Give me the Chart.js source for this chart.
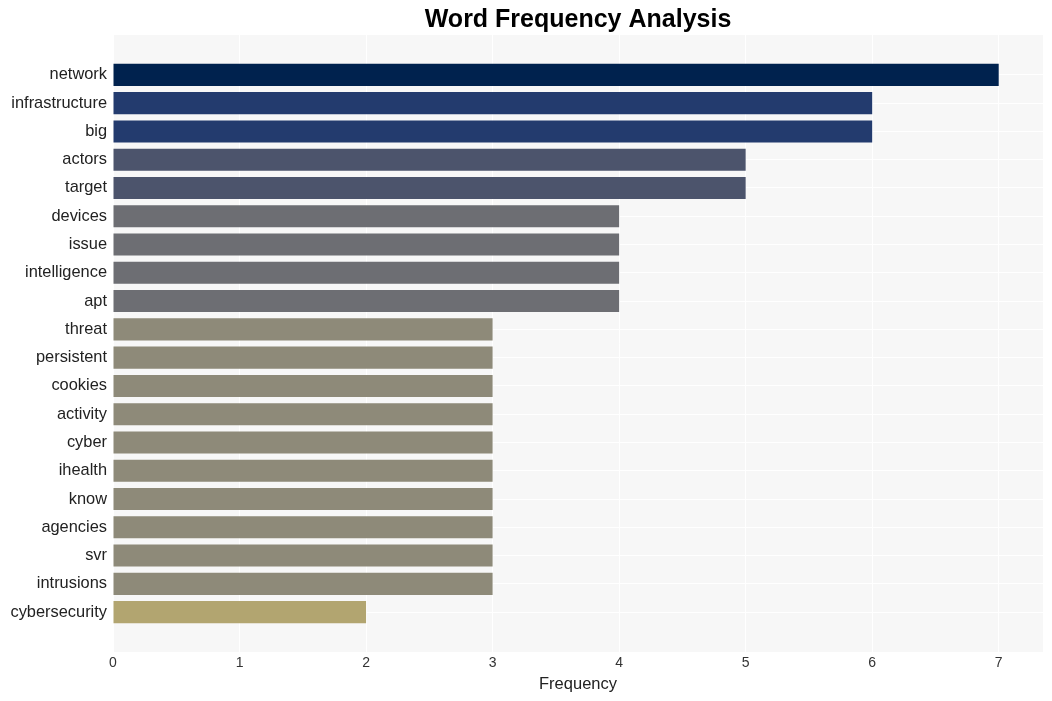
<!DOCTYPE html>
<html>
<head>
<meta charset="utf-8">
<script src="https://cdn.jsdelivr.net/npm/chart.js@4"></script>
<style>
html,body{margin:0;padding:0;background:#fff;}
#wrap{width:1052px;height:701px;}
</style>
</head>
<body>
<div id="wrap"><canvas id="c" width="1052" height="701"></canvas></div>
<script>
const words = ["network","infrastructure","big","actors","target","devices","issue","intelligence","apt","threat","persistent","cookies","activity","cyber","ihealth","know","agencies","svr","intrusions","cybersecurity"];
const counts = [7,6,6,5,5,4,4,4,4,3,3,3,3,3,3,3,3,3,3,2];
const xTicks = [0,1,2,3,4,5,6,7];
const colorByCount = {7:"#00224e",6:"#233b6e",5:"#4c546c",4:"#6d6e73",3:"#8e8a79",2:"#b2a570"};

const bgPlugin = {
  id:'plotBg',
  beforeDraw(chart){
    const {ctx, chartArea:a} = chart;
    ctx.save();
    ctx.fillStyle = '#f7f7f7';
    ctx.fillRect(a.left, a.top, a.right-a.left, a.bottom-a.top);
    ctx.restore();
  }
};

new Chart(document.getElementById('c'), {
  type:'bar',
  data:{
    datasets:[{
      data: words.map((w,i)=>({x:counts[i], y:i})),
      backgroundColor: counts.map(v=>colorByCount[v]),
      barPercentage:0.78,
      categoryPercentage:1.0
    }]
  },
  options:{
    indexAxis:'y',
    responsive:false,
    animation:false,
    layout:{padding:{top:5,right:9,bottom:5,left:0}},
    plugins:{
      legend:{display:false},
      tooltip:{enabled:false},
      title:{
        display:true,
        text:'Word Frequency Analysis',
        fullSize:false,
        color:'#000',
        font:{family:'Liberation Sans, Arial, sans-serif',size:25,weight:'bold'},
        padding:{top:0,bottom:0}
      }
    },
    scales:{
      x:{
        type:'linear',
        min:0,
        max:7.35,
        afterBuildTicks(s){ s.ticks = xTicks.map(v=>({value:v})); },
        afterFit(s){ s.height = 44; },
        grid:{color:'#ffffff',lineWidth:1,drawTicks:false,offset:false},
        border:{display:false},
        ticks:{color:'#333',font:{family:'Liberation Sans, Arial, sans-serif',size:14},padding:3},
        title:{display:true,text:'Frequency',color:'#222',font:{family:'Liberation Sans, Arial, sans-serif',size:16.5},padding:{top:4,bottom:2}}
      },
      y:{
        type:'linear',
        reverse:true,
        offset:false,
        min:-1.41,
        max:words.length-1+1.41,
        afterBuildTicks(s){ s.ticks = words.map((w,i)=>({value:i})); },
        afterFit(s){ s.width = 113; },
        grid:{color:'#ffffff',lineWidth:1,drawTicks:false,offset:false},
        border:{display:false},
        ticks:{
          color:'#222',
          font:{family:'Liberation Sans, Arial, sans-serif',size:16.4},
          padding:6,
          autoSkip:false,
          callback:(v)=>words[v]
        }
      }
    }
  },
  plugins:[bgPlugin]
});
</script>
</body>
</html>
